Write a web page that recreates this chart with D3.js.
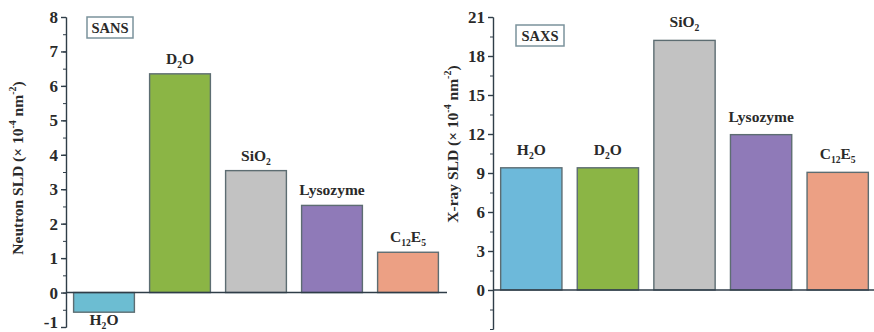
<!DOCTYPE html>
<html>
<head>
<meta charset="utf-8">
<script src="https://cdn.jsdelivr.net/npm/d3@7"></script>
<style>
  body { margin: 0; background: #fff; }
  svg { display: block; }
  text { font-family: "Liberation Serif", "Times New Roman", serif; fill: #2a2a2a; }
  .axis path, .axis line { stroke: #2f3d48; }
  .axis text { font-size: 17px; font-weight: bold; fill: #2a2a2a; }
</style>
</head>
<body>
<svg width="874" height="332"></svg>
<script>
// substances, subscripts written in braces
var substances = ["H{2}O", "D{2}O", "SiO{2}", "Lysozyme", "C{12}E{5}"];
var sansSLD = [-0.57, 6.35, 3.54, 2.53, 1.17];
var saxsSLD = [9.4, 9.4, 19.2, 11.95, 9.05];
var barColors = ["#6cbdd2", "#8bb545", "#c2c2c2", "#8f7ab8", "#eca084"];
var saxsColors = ["#6db9da", "#8bb545", "#c2c2c2", "#8f7ab8", "#eca084"];
var sansTicks = [-1, 0, 1, 2, 3, 4, 5, 6, 7, 8];
var saxsTicks = [0, 3, 6, 9, 12, 15, 18, 21];

var svg = d3.select("svg");

function label(sel, str, size) {
  // split "H{2}O" into normal / subscript tspans
  var parts = str.split(/(\{[^}]*\})/).filter(function(p) { return p.length; });
  var shift = 0;
  parts.forEach(function(p) {
    if (p[0] == "{") {
      sel.append("tspan").text(p.slice(1, -1))
        .style("font-size", (size * 0.62) + "px").attr("dy", 4 - shift);
      shift = 4;
    } else {
      sel.append("tspan").text(p).attr("dy", -shift);
      shift = 0;
    }
  });
}

function panel(opt) {
  var g = svg.append("g");
  var x = d3.scaleBand().domain(substances).range(opt.xr).paddingInner(0.2).paddingOuter(0.1);
  var y = d3.scaleLinear().domain(opt.yd).range(opt.yr);

  g.selectAll("rect.bar")
    .data(opt.values)
    .enter().append("rect")
    .attr("class", "bar")
    .attr("x", function(d, i) { return x(substances[i]); })
    .attr("width", x.bandwidth())
    .attr("y", function(d) { return y(Math.max(0, d)); })
    .attr("height", function(d) { return Math.abs(y(d) - y(0)); })
    .attr("fill", function(d, i) { return opt.colors[i]; })
    .attr("stroke", "#5d6d72")
    .attr("stroke-width", 1.4);

  g.selectAll("text.lab")
    .data(opt.values)
    .enter().append("text")
    .attr("class", "lab")
    .attr("text-anchor", "middle")
    .style("font-size", "15.5px")
    .style("font-weight", "bold")
    .attr("x", function(d, i) { return x(substances[i]) + x.bandwidth() / 2; })
    .attr("y", function(d) { return d < 0 ? y(d) + 13 : y(d) - opt.gap; })
    .each(function(d, i) { label(d3.select(this), substances[i], 15.5); });

  // zero line
  g.append("line")
    .attr("x1", opt.xr[0]).attr("x2", opt.zeroEnd)
    .attr("y1", y(0)).attr("y2", y(0))
    .attr("stroke", "#2f3d48").attr("stroke-width", 1.4);

  g.append("g").attr("class", "axis")
    .attr("transform", "translate(" + opt.xr[0] + ",0)")
    .call(d3.axisLeft(y).tickValues(opt.minor).tickSize(3).tickFormat("").tickSizeOuter(0));

  var ax = g.append("g").attr("class", "axis")
    .attr("transform", "translate(" + opt.xr[0] + ",0)")
    .call(d3.axisLeft(y).tickValues(opt.ticks).tickSize(5).tickPadding(3).tickSizeOuter(0)
      .tickFormat(function(d) { return String(d); }));
  ax.selectAll("path, line").attr("stroke-width", 1.4);
  ax.selectAll(".tick text").filter(function(d) { return d < 0; }).attr("y", -5);

  var t = g.append("text")
    .attr("transform", "translate(" + opt.titleX + "," + opt.titleY + ") rotate(-90)")
    .attr("text-anchor", "middle")
    .style("font-size", "15.5px")
    .style("font-weight", "bold");
  t.append("tspan").text(opt.title + " SLD (\u00d7 10");
  t.append("tspan").text("-4").style("font-size", "10px").attr("dy", -7);
  t.append("tspan").text(" nm").attr("dy", 7);
  t.append("tspan").text("-2").style("font-size", "10px").attr("dy", -7);
  t.append("tspan").text(")").attr("dy", 7);

  var b = g.append("g").attr("transform", "translate(" + opt.box[0] + "," + opt.box[1] + ")");
  b.append("rect").attr("width", opt.box[2]).attr("height", 21)
    .attr("fill", "#fff").attr("stroke", "#7b939c").attr("stroke-width", 1.5);
  b.append("text").attr("x", opt.box[2] / 2).attr("y", 16)
    .attr("text-anchor", "middle")
    .style("font-size", "14.5px").style("font-weight", "bold")
    .text(opt.name);
}

panel({
  name: "SANS", title: "Neutron", values: sansSLD, colors: barColors,
  xr: [66, 446], yd: [-1, 8], yr: [327, 17], zeroEnd: 447, gap: 10,
  ticks: sansTicks, minor: d3.range(-1, 8.01, 0.5),
  titleX: 23, titleY: 168, box: [87, 17, 46]
});

panel({
  name: "SAXS", title: "X-ray", values: saxsSLD, colors: saxsColors,
  xr: [493, 876], yd: [-3, 21], yr: [329, 17], zeroEnd: 874, gap: 13,
  ticks: saxsTicks, minor: d3.range(-3, 21.01, 1.5),
  titleX: 458, titleY: 144, box: [516, 25, 48]
});
</script>
</body>
</html>
